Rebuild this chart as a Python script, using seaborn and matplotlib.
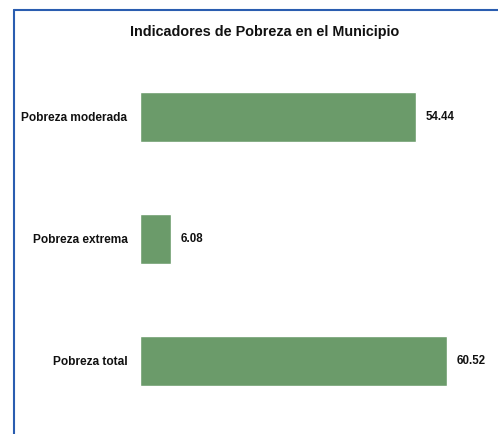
import pandas as pd
import seaborn as sns
import matplotlib.pyplot as plt
from matplotlib.lines import Line2D

categorias = ['Pobreza moderada', 'Pobreza extrema', 'Pobreza total']
valores = [54.44, 6.08, 60.52]
etiquetas = ['54.44', '6.08', '60.52']

sns.set_theme(style='white')
plt.rcParams['font.family'] = ['Liberation Sans', 'DejaVu Sans']

df = pd.DataFrame({'categoria': categorias, 'valor': valores})

fig = plt.figure(figsize=(4.98, 4.34), dpi=100)
ax = fig.add_axes([0.281, 0.028, 0.713, 0.843])

sns.barplot(data=df, x='valor', y='categoria', color='#6b9b6a', width=0.41,
            saturation=1, ax=ax, orient='h')
ax.set_xlim(0, 70)
ax.set_ylim(2.5, -0.5)

ax.bar_label(ax.containers[0], labels=etiquetas, padding=7,
             fontsize=8.3, fontweight='bold', color='#111111')

ax.set_xlabel('')
ax.set_ylabel('')
ax.set_xticks([])
ax.tick_params(axis='y', length=0, pad=9, labelsize=8.6)
for lbl in ax.get_yticklabels():
    lbl.set_fontweight('bold')
    lbl.set_color('#111111')
sns.despine(ax=ax, left=True, bottom=True)

fig.text(0.532, 0.926, 'Indicadores de Pobreza en el Municipio',
         ha='center', va='center', fontsize=10.4, fontweight='bold', color='#111111')

# marco del recuadro
fig.add_artist(Line2D([0.028, 0.028], [0.0, 0.977], color='#2a5db0', lw=1.5))
fig.add_artist(Line2D([0.028, 1.0], [0.977, 0.977], color='#2a5db0', lw=1.5))

fig.savefig('out.png', dpi=100)
